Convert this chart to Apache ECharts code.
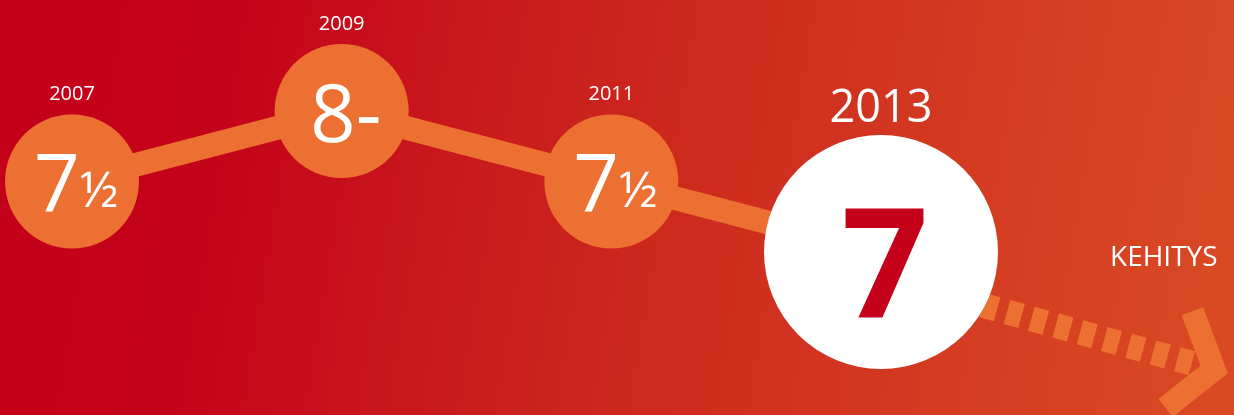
<!DOCTYPE html>
<html>
<head>
<meta charset="utf-8">
<style>
html,body{margin:0;padding:0;background:#C3001A;overflow:hidden;}
#c{width:1234px;height:415px;}
</style>
<script src="https://cdn.jsdelivr.net/npm/echarts@6/dist/echarts.min.js"></script>
</head>
<body>
<div id="c"></div>
<script>
// ---- data ----
const years = [2007, 2009, 2011, 2013];
const gradeLevels = ['7', '7½', '8-'];          // ordinal grade scale (y axis)
const grades = ['7½', '8-', '7½', '7'];          // grade per year
const trendLabel = 'KEHITYS';

// ---- styles ----
const ORANGE = '#EC7031';
const RED = '#C4001A';
const FONT = '"Open Sans", "Noto Sans", sans-serif';
const last = years.length - 1;

const chart = echarts.init(document.getElementById('c'), null, { renderer: 'canvas' });

function gradeFormatter(p) {
  const s = String(p.value[1]);
  if (s.endsWith('½')) return '{a|' + s.slice(0, -1) + '}{b|½}';
  return '{a|' + s + '}';
}

const lineData = years.map((y, i) => ({
  value: [y, grades[i]],
  symbolSize: i === last ? 234 : 134,
  itemStyle: { color: i === last ? '#ffffff' : ORANGE },
  label: i === last ? {
    rich: {
      a: { fontSize: 152, fontWeight: 'bold', color: RED, fontFamily: FONT, lineHeight: 152 }
    },
    offset: [4, 23]
  } : {
    offset: [4, 8]
  }
}));

const yearData = years.map((y, i) => ({
  value: [y, grades[i]],
  symbolSize: i === last ? 234 : 134,
  label: i === last
    ? { fontSize: 45, lineHeight: 45, distance: 3 }
    : { fontSize: 20, lineHeight: 20, distance: 10 }
}));

const option = {
  backgroundColor: {
    type: 'linear', x: 0, y: 0.25, x2: 1, y2: 0.75,
    colorStops: [
      { offset: 0, color: '#C3001A' },
      { offset: 0.18, color: '#C4041A' },
      { offset: 0.36, color: '#C9181C' },
      { offset: 0.55, color: '#CD2A1E' },
      { offset: 0.8, color: '#D43D21' },
      { offset: 1, color: '#D94A24' }
    ]
  },
  animation: false,
  grid: { left: 72, right: 353, top: 111, bottom: 163 },
  xAxis: {
    type: 'value', min: years[0], max: years[last],
    show: false, splitLine: { show: false }
  },
  yAxis: {
    type: 'category', data: gradeLevels, boundaryGap: false,
    show: false
  },
  series: [
    {
      type: 'line',
      data: lineData,
      symbol: 'circle',
      showAllSymbol: true,
      lineStyle: { color: ORANGE, width: 24 },
      label: {
        show: true,
        position: 'inside',
        formatter: gradeFormatter,
        rich: {
          a: { fontSize: 80, color: '#ffffff', fontFamily: FONT, lineHeight: 80 },
          b: { fontSize: 50, color: '#ffffff', fontFamily: FONT, lineHeight: 50, verticalAlign: 'bottom', padding: [0, 0, 12, 0] }
        }
      },
      silent: true,
      z: 3
    },
    {
      type: 'scatter',
      data: yearData,
      symbol: 'circle',
      itemStyle: { color: 'rgba(0,0,0,0)', opacity: 1 },
      label: {
        show: true,
        position: 'top',
        color: '#ffffff',
        opacity: 1,
        fontFamily: FONT,
        formatter: (p) => String(p.value[0])
      },
      silent: true,
      z: 4
    }
  ]
};

chart.setOption(option);

// ---- trend arrow, placed relative to the last data point ----
const p = chart.convertToPixel({ seriesIndex: 0 }, [years[last], grades[last]]);
const ang = 15.5 * Math.PI / 180;
const ox = p[0], oy = p[1] + 25;
function pt(lx, ly) {
  return [ox + lx * Math.cos(ang) - ly * Math.sin(ang), oy + lx * Math.sin(ang) + ly * Math.cos(ang)];
}
const dashLen = 15, pitch = 25.25, nDash = 9, firstC = 113;
const dashes = [];
for (let i = 0; i < nDash; i++) {
  const c = firstC + i * pitch;
  const a = pt(c - dashLen / 2, 0), b = pt(c + dashLen / 2, 0);
  dashes.push({
    type: 'line', silent: true, z: 1,
    shape: { x1: a[0], y1: a[1], x2: b[0], y2: b[1] },
    style: { stroke: ORANGE, lineWidth: 25, lineCap: 'butt' }
  });
}
const tip = 345.7, arm = 62, half = 54 * Math.PI / 180;
const chevron = {
  type: 'polyline', silent: true, z: 1,
  shape: {
    points: [
      pt(tip - arm * Math.cos(half), -arm * Math.sin(half)),
      pt(tip, 0),
      pt(tip - arm * Math.cos(half), arm * Math.sin(half))
    ]
  },
  style: { stroke: ORANGE, lineWidth: 23, lineJoin: 'miter', lineCap: 'butt', fill: null }
};

chart.setOption({
  graphic: [
    ...dashes,
    chevron,
    {
      type: 'text', silent: true, z: 5,
      x: 1110, y: 258,
      style: {
        text: trendLabel, fill: '#ffffff', fontSize: 28, fontFamily: FONT,
        textAlign: 'left', textVerticalAlign: 'middle'
      }
    }
  ]
});
</script>
</body>
</html>
